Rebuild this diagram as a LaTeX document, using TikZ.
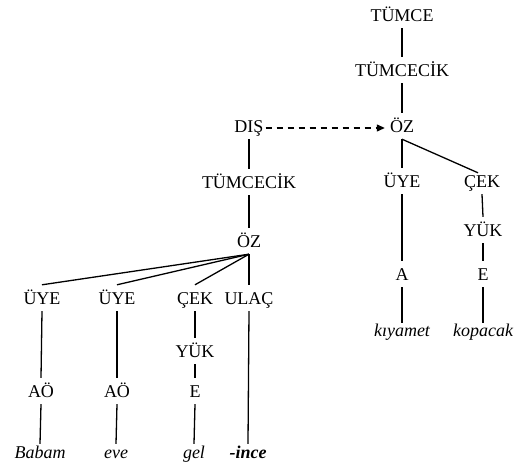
\documentclass[tikz,border=0pt]{standalone}
\usepackage{fontspec}
\setmainfont{Liberation Serif}
\usetikzlibrary{arrows.meta}
\begin{document}
\begin{tikzpicture}[x=1pt,y=-1pt,
  lab/.style={anchor=base,font=\fontsize{18}{20}\selectfont,text height=16pt,text depth=2pt,inner ysep=4pt,inner xsep=2pt},
  word/.style={anchor=base,font=\fontsize{18}{20}\selectfont\itshape,text height=10pt,text depth=2pt,inner ysep=4pt,inner xsep=2pt},
  edge/.style={line width=1.3pt}]
\useasboundingbox (0,0) rectangle (515,468);
% right tree
\node[lab] (tumce) at (402,22) {TÜMCE};
\node[lab] (tc1) at (402,77) {TÜMCECİK};
\node[lab] (oz1) at (402,133) {ÖZ};
\node[lab] (uye3) at (402,188) {ÜYE};
\node[lab] (cek2) at (482,188) {ÇEK};
\node[lab] (yuk2) at (483,237) {YÜK};
\node[lab] (a) at (402,281) {A};
\node[lab] (e2) at (483,281) {E};
\node[word] (kiyamet) at (402,337) {kıyamet};
\node[word] (kopacak) at (483,337) {kopacak};
% left tree
\node[lab] (dis) at (249,133) {DIŞ};
\node[lab] (tc2) at (249,189) {TÜMCECİK};
\node[lab] (oz2) at (249,248) {ÖZ};
\node[lab] (uye1) at (42,305) {ÜYE};
\node[lab] (uye2) at (117,305) {ÜYE};
\node[lab] (cek1) at (195,305) {ÇEK};
\node[lab] (ulac) at (249,305) {ULAÇ};
\node[lab] (yuk1) at (195,358) {YÜK};
\node[lab] (ao1) at (41,398) {AÖ};
\node[lab] (ao2) at (117,398) {AÖ};
\node[lab] (e1) at (195,398) {E};
\node[word] (babam) at (40,458) {Babam};
\node[word] (eve) at (116,458) {eve};
\node[word] (gel) at (194,458) {gel};
\node[word,font=\fontsize{18}{20}\selectfont\bfseries\itshape] (ince) at (248,458) {-ince};
% edges right
\draw[edge] (tumce) -- (tc1);
\draw[edge] (tc1) -- (oz1);
\draw[edge] (oz1.south) -- (uye3.north);
\draw[edge] (oz1.south) -- ([xshift=-4pt,yshift=-5pt]cek2.north);
\draw[edge] (uye3) -- (a);
\draw[edge] (a) -- (kiyamet);
\draw[edge] (cek2.south) -- (yuk2.north);
\draw[edge] (yuk2.south) -- (e2.north);
\draw[edge] (e2.south) -- (kopacak.north);
% dashed arrow
\draw[edge,dash pattern=on 6pt off 5pt,-{Triangle[length=8pt,width=7pt]},shorten >=3pt]
  ([yshift=-2pt]dis.east) -- ([yshift=-2pt]oz1.west);
% edges left
\draw[edge] (dis) -- (tc2);
\draw[edge] (tc2) -- (oz2);
\draw[edge] (oz2.south) -- (uye1.north);
\draw[edge] (oz2.south) -- (uye2.north);
\draw[edge] (oz2.south) -- (cek1.north);
\draw[edge] (oz2.south) -- (ulac.north);
\draw[edge] (uye1.south) -- (ao1.north);
\draw[edge] (uye2.south) -- (ao2.north);
\draw[edge] (cek1.south) -- (yuk1.north);
\draw[edge] (yuk1.south) -- (e1.north);
\draw[edge] (ao1.south) -- (babam.north);
\draw[edge] (ao2.south) -- (eve.north);
\draw[edge] (e1.south) -- (gel.north);
\draw[edge] (ulac.south) -- (ince.north);
\end{tikzpicture}
\end{document}
